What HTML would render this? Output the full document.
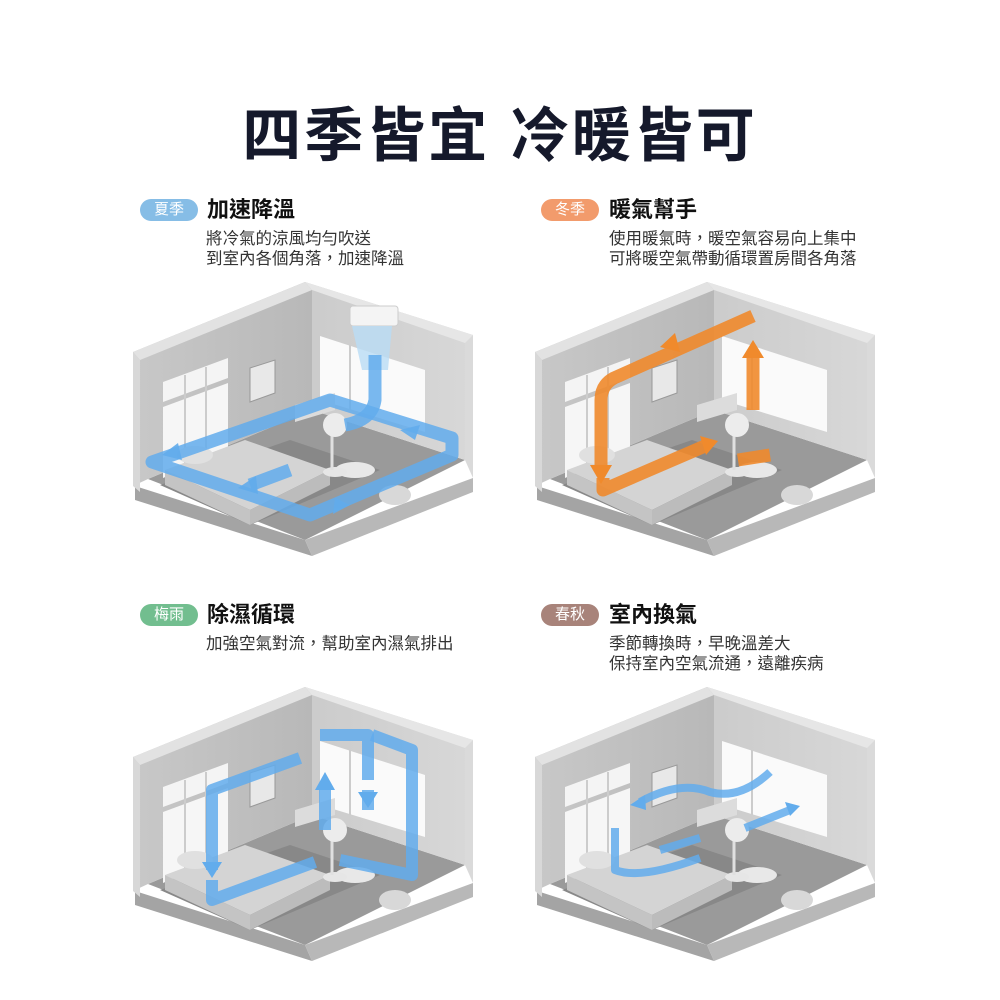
<!DOCTYPE html>
<html><head><meta charset="utf-8">
<style>
html,body{margin:0;padding:0;background:#fff;}
body{width:1000px;height:1000px;position:relative;overflow:hidden;font-family:"Liberation Sans","Noto Sans CJK TC",sans-serif;}
.t{position:absolute;left:0;width:1000px;top:88px;text-align:center;font-size:59px;font-weight:bold;color:#15192b;letter-spacing:3px;font-family:"Liberation Sans","Noto Sans CJK TC",sans-serif;}
.badge{position:absolute;width:58px;height:22px;border-radius:11px;color:#fff;font-size:15px;line-height:22px;text-align:center;}
.h{position:absolute;font-size:22px;font-weight:bold;color:#111;line-height:26px;}
.p{position:absolute;font-size:16.5px;color:#333;line-height:20px;}
svg{position:absolute;left:0;top:0;}
</style></head><body>
<svg width="1000" height="1000" viewBox="0 0 1000 1000">
<defs>
<linearGradient id="lw" x1="0" y1="0" x2="1" y2="0"><stop offset="0" stop-color="#c8c8c8"/><stop offset="1" stop-color="#b8b8b8"/></linearGradient>
<linearGradient id="rw" x1="0" y1="0" x2="1" y2="0"><stop offset="0" stop-color="#cbcbcb"/><stop offset="1" stop-color="#d8d8d8"/></linearGradient>
<g id="room">
 <polygon points="135,486 305,540 312,556 135,500" fill="#a4a4a4"/>
 <polygon points="305,540 473,478 473,492 312,556" fill="#b8b8b8"/>
 <polygon points="148,479 312,410 465,460 305,540" fill="#9a9a9a"/>
 <polygon points="160,485 290,440 380,470 250,525" fill="#888"/>
 <polygon points="133,352 305,282 312,290 312,410 148,479 133,486" fill="url(#lw)"/>
 <polygon points="133,352 305,282 312,290 140,360" fill="#e2e2e2"/>
 <polygon points="133,352 140,360 140,492 133,486" fill="#d8d8d8"/>
 <polygon points="312,290 305,282 473,335 465,343 465,460 312,410" fill="url(#rw)"/>
 <polygon points="305,282 473,335 465,343 312,290" fill="#e6e6e6"/>
 <polygon points="465,343 473,335 473,478 465,460" fill="#dadada"/>
 <polygon points="163,382 228,358 228,378 163,402" fill="#f4f4f4"/>
 <polygon points="163,407 228,383 228,450 163,478" fill="#f6f6f6"/>
 <line x1="185" y1="375" x2="185" y2="470" stroke="#ccc" stroke-width="2"/>
 <line x1="206" y1="367" x2="206" y2="460" stroke="#ccc" stroke-width="2"/>
 <polygon points="250,368 275,360 275,393 250,402" fill="#e8e8e8" stroke="#999" stroke-width="1"/>
 <polygon points="320,336 425,370 425,432 320,400" fill="#fafafa"/>
 <line x1="350" y1="345" x2="350" y2="410" stroke="#ccc" stroke-width="2"/>
 <polygon points="165,470 245,440 330,470 250,510" fill="#d4d4d4"/>
 <polygon points="250,510 330,470 330,485 250,525" fill="#bcbcbc"/>
 <polygon points="165,470 250,510 250,525 165,485" fill="#c4c4c4"/>
 <ellipse cx="195" cy="455" rx="18" ry="9" fill="#e0e0e0"/>
 <ellipse cx="355" cy="470" rx="20" ry="8" fill="#e8e8e8"/>
 <ellipse cx="335" cy="472" rx="12" ry="5" fill="#e6e6e6"/>
 <line x1="332" y1="430" x2="332" y2="470" stroke="#e0e0e0" stroke-width="3"/>
 <ellipse cx="335" cy="425" rx="12" ry="12" fill="#ececec"/>
 <ellipse cx="395" cy="495" rx="16" ry="10" fill="#d8d8d8"/>
 <polygon points="295,405 335,393 335,410 295,422" fill="#dcdcdc"/>
</g>
</defs>
<use href="#room"/>
<use href="#room" transform="translate(402,0)"/>
<use href="#room" transform="translate(0,405)"/>
<use href="#room" transform="translate(402,405)"/>

<rect x="350" y="306" width="48" height="20" rx="3" fill="#f4f4f4" stroke="#ccc"/>
<polygon points="352,326 392,326 388,370 362,370" fill="#b9dcf5" opacity="0.8"/>
<g fill="none" stroke="#62acec" stroke-width="13" stroke-opacity="0.85" stroke-linejoin="round">
 <path d="M152,462 L330,400 L452,438 L452,455 L310,515 L152,462 Z"/>
 <path d="M375,355 L375,400 Q372,420 345,425"/>
 <path d="M290,470 L250,485"/>
</g>
<g fill="#62acec" opacity="0.9">
 <polygon points="238,488 256,476 258,494"/>
 <polygon points="178,443 162,455 182,460"/>
 <polygon points="420,425 400,430 415,440"/>
 <polygon points="350,505 335,498 333,514"/>
</g>

<g fill="none" stroke="#f08a2c" stroke-width="13" stroke-opacity="0.9" stroke-linejoin="round">
 <path d="M753,316 L614,378 Q601,385 601,400 L601,470"/>
 <path d="M603,478 L603,490 L705,446"/>
 <path d="M753,410 L753,355"/>
 <path d="M770,455 L738,460"/>
</g>
<g fill="#f08a2c">
 <polygon points="590,465 612,465 601,484"/>
 <polygon points="660,347 675,333 680,352"/>
 <polygon points="742,358 764,358 753,340"/>
 <polygon points="700,436 718,441 706,455"/>
</g>

<g fill="none" stroke="#62acec" stroke-width="12" stroke-opacity="0.85" stroke-linejoin="round">
 <path d="M300,758 L212,790 L212,870"/>
 <path d="M212,880 L212,900 L315,862"/>
 <path d="M320,735 L368,735 L368,780"/>
 <path d="M372,735 L412,750 L412,875 L340,860"/>
 <path d="M325,830 L325,785"/>
 <path d="M368,810 L368,790"/>
</g>
<g fill="#62acec">
 <polygon points="315,790 335,790 325,772"/>
 <polygon points="358,792 378,792 368,808"/>
 <polygon points="202,862 222,862 212,878"/>
</g>

<g fill="none" stroke="#62acec" stroke-width="8" stroke-opacity="0.85" stroke-linejoin="round">
 <path d="M640,802 Q680,780 710,792 Q740,800 770,772"/>
 <path d="M615,828 L615,870 Q640,880 700,858"/>
 <path d="M745,828 L790,810"/>
 <path d="M660,850 L700,838"/>
</g>
<g fill="#62acec">
 <polygon points="630,805 645,795 646,810"/>
 <polygon points="800,806 785,802 790,816"/>
</g>
</svg>

<div class="t">四季皆宜 冷暖皆可</div>

<div class="badge" style="left:140px;top:199px;background:#86bde6;">夏季</div>
<div class="h" style="left:207px;top:197px;">加速降溫</div>
<div class="p" style="left:206px;top:229px;">將冷氣的涼風均勻吹送<br>到室內各個角落，加速降溫</div>

<div class="badge" style="left:541px;top:199px;background:#f29b6c;">冬季</div>
<div class="h" style="left:609px;top:197px;">暖氣幫手</div>
<div class="p" style="left:609px;top:229px;">使用暖氣時，暖空氣容易向上集中<br>可將暖空氣帶動循環置房間各角落</div>

<div class="badge" style="left:140px;top:604px;background:#72be8f;">梅雨</div>
<div class="h" style="left:207px;top:602px;">除濕循環</div>
<div class="p" style="left:206px;top:634px;">加強空氣對流，幫助室內濕氣排出</div>

<div class="badge" style="left:541px;top:604px;background:#a8837a;">春秋</div>
<div class="h" style="left:609px;top:602px;">室內換氣</div>
<div class="p" style="left:609px;top:634px;">季節轉換時，早晚溫差大<br>保持室內空氣流通，遠離疾病</div>
</body></html>
